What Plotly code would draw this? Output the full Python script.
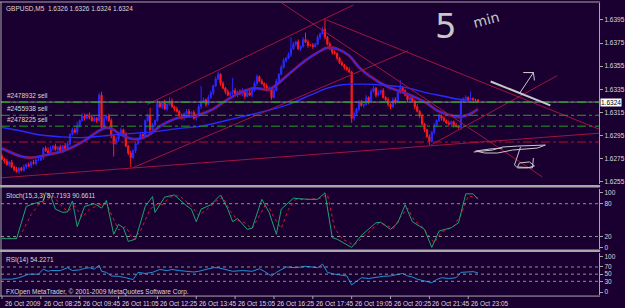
import plotly.graph_objects as go

# ---------------- data (prices in pips above 1.6200) ----------------
close_pips = [75, 73, 70, 72, 68, 66, 64, 67, 65, 68, 70, 69, 72, 71, 74,
              74, 76, 84, 82, 80, 84, 86, 83, 85, 82, 86, 84, 88, 96, 100, 98, 104,
              108, 112, 110, 113, 111, 108, 110, 108, 130, 102, 110, 112, 108, 95, 88,
              92, 96, 100, 96, 86, 80, 76, 82, 88, 92, 96, 94, 108, 112, 100, 104, 108,
              123, 120, 124, 118, 122, 125, 120, 118, 116, 112, 110, 114, 116, 114, 115,
              110, 112, 120, 124, 126, 122, 128, 132, 138, 144, 148, 140, 136, 133, 130,
              132, 134, 130, 133, 131, 134, 129, 132, 130, 134, 140, 146, 142, 140, 138,
              134, 136, 128, 134, 142, 148, 154, 160, 162, 165, 170, 174, 176, 170, 172,
              178, 176, 173, 173, 172, 174, 180, 183, 187, 180, 174, 170, 167, 166, 162,
              158, 156, 154, 152, 150, 110, 114, 118, 124, 121, 122, 128, 124, 133, 136,
              130, 132, 134, 128, 126, 122, 120, 126, 124, 132, 136, 134, 130, 126, 128,
              125, 120, 116, 112, 105, 100, 94, 90, 98, 104, 108, 112, 110, 108, 106,
              105, 107, 104, 103, 102, 125, 127, 128, 126, 127, 126, 126, 124]
open_first = 77
upper_wick = [2,1,2,1,2,1,2,1,1,2, 1,2,1,2,1,2,2,1,2,3, 2,1,2,1,2,1,3,2,1,2,
              2,3,1,2,2,1,2,1,2,1, 2,3,2,1,2,2,1,2,1,2, 1,2,1,2,1,2,1,2,2,1,
              2,7,2,1,3,2,1,2,1,3, 2,1,2,1,2,1,2,2,1,2, 1,2,14,2,1,2,2,1,2,2,
              1,2,1,2,1,11,2,1,2,2, 1,2,2,1,2,2,1,2,1,2, 2,1,2,2,1,2,2,1,2,10,
              2,1,2,1,2,6,2,1,2,1, 2,1,2,9,1,2,1,2,1,1, 2,1,1,2,1,2,1,2,2,1,
              2,1,2,2,1,2,1,2,1,2, 1,2,2,1,7,2,1,2,1,2, 1,2,1,2,1,1,2,1,2,1,
              2,1,2,1,2,1,1,2,1,2, 1,2,1,6,1,1,0]
lower_wick = [1,2,1,2,1,2,1,2,1,1, 2,1,2,1,2,1,1,2,1,2, 1,2,1,2,1,2,1,1,2,1,
              1,2,2,1,2,1,2,1,1,2, 1,2,1,2,1,2,11,1,2,1, 2,1,2,8,1,2,1,1,2,1,
              1,2,1,2,1,1,2,1,2,1, 1,2,1,2,1,2,1,1,2,1, 2,1,2,1,2,1,1,2,1,1,
              2,1,2,1,1,2,1,2,1,2, 2,1,1,2,1,2,1,1,2,1, 1,2,1,1,2,1,1,2,1,2,
              1,2,1,2,1,1,2,1,2,1, 1,2,1,2,1,1,2,1,2,1, 1,2,1,1,4,2,1,2,1,2,
              1,2,1,1,2,1,2,1,1,2, 2,1,2,1,1,2,1,2,1,1, 2,1,2,1,2,1,3,1,2,1,
              1,2,1,1,2,1,2,1,1,2, 1,1,2,1,1,2,0]

fast_ma_i = [0, 8, 12, 20, 24, 29, 35, 39, 43, 46, 48, 54, 60, 65, 72, 81, 87, 92, 98, 104,
             110, 118, 125, 131, 134, 138, 143, 147, 151, 159, 167, 175, 179, 184, 188, 192, 196]
fast_ma_p = [84, 77, 76, 79, 81, 85, 92, 98, 102, 100, 97, 92, 95, 103, 110, 113, 118, 125, 132, 136,
             135, 148, 160, 168, 171, 170, 164, 154, 147, 137, 131, 123, 117, 113, 111, 113, 118]
slow_ma_i = [0, 8, 16, 24, 33, 41, 49, 61, 74, 82, 98, 110, 118, 127, 134, 140, 148, 158, 166, 174, 182, 188, 192]
slow_ma_p = [102, 99, 95.5, 94, 93.3, 94.6, 96.3, 98, 101.5, 103.2, 111, 117, 122, 130, 136, 139, 139.5,
             138.5, 136.7, 132.4, 129, 126.4, 125.5]

stoch_k_i = [0, 6, 10, 13, 17, 18, 20, 22, 25, 27, 29, 31, 34, 38, 41, 43, 46, 48, 50, 52,
             55, 59, 62, 63, 67, 71, 76, 78, 80, 82, 86, 90, 93, 95, 97, 101, 103, 107, 110, 113,
             115, 120, 126, 130, 133, 136, 138, 144, 148, 154, 156, 160, 163, 166, 169, 172, 174, 177,
             180, 185, 188, 191, 194, 196]
stoch_k_v = [16, 16, 75, 80, 85, 100, 95, 70, 64, 65, 85, 38, 75, 80, 72, 86, 24, 42, 36, 11,
             15, 75, 93, 64, 92, 96, 76, 70, 47, 70, 78, 96, 70, 47, 53, 33, 35, 88, 64, 24,
             70, 90, 88, 88, 100, 18, 15, 0, 22, 45, 46, 33, 45, 78, 47, 38, 33, 0,
             30, 36, 45, 98, 98, 88]
stoch_d_i = [0, 7, 12, 15, 19, 21, 24, 27, 30, 33, 36, 40, 43, 45, 48, 51, 54, 57, 61, 64,
             66, 69, 73, 78, 81, 84, 88, 91, 94, 97, 100, 103, 105, 109, 112, 115, 118, 121, 127, 131,
             134, 137, 140, 145, 149, 155, 158, 161, 164, 167, 170, 173, 176, 178, 181, 186, 189, 192, 196]
stoch_d_v = [17, 17, 60, 78, 88, 95, 78, 66, 76, 55, 70, 78, 80, 60, 32, 38, 14, 30, 70, 80,
             78, 92, 95, 76, 58, 68, 84, 92, 66, 50, 45, 34, 50, 82, 55, 35, 70, 88, 88, 90,
             97, 35, 16, 4, 20, 44, 42, 34, 55, 72, 48, 38, 20, 8, 28, 38, 60, 94, 91]

rsi_i = [0, 4, 7, 9, 11, 15, 17, 19, 20, 24, 27, 29, 32, 34, 36, 38, 40, 41, 43, 45,
         48, 51, 54, 56, 59, 62, 65, 68, 70, 73, 76, 79, 81, 84, 87, 89, 92, 95, 99, 103,
         106, 108, 111, 113, 117, 121, 125, 130, 132, 134, 137, 140, 142, 144, 146, 148, 151, 154, 157, 160,
         163, 165, 167, 169, 171, 174, 177, 179, 181, 184, 187, 189, 192, 194, 196]
rsi_v = [36, 36, 40, 45, 50, 50, 64, 58, 60, 60, 68, 60, 62, 66, 68, 64, 75, 58, 55, 45,
         44, 40, 35, 55, 52, 55, 63, 60, 63, 60, 58, 56, 58, 62, 68, 68, 62, 58, 60, 58,
         65, 58, 45, 55, 70, 68, 72, 68, 78, 55, 50, 47, 45, 20, 30, 40, 38, 42, 44, 45,
         48, 52, 45, 42, 36, 32, 26, 35, 40, 38, 40, 55, 56, 57, 54]

order_prices = [1.6324, 1.63126, 1.63032]
order_labels = ["#2478932 sell", "#2455938 sell", "#2478225 sell"]
stop_price = 1.62895
bid_price = 1.6324

# trend lines: (bar index, price) pairs
trend_lines = [
    (-0.8, 1.62585, 245.9, 1.62971),
    (53.7, 1.62671, 167.2, 1.63684),
    (59.8, 1.63220, 144.7, 1.64079),
    (115.2, 1.64096, 222.5, 1.62594),
    (133.6, 1.63950, 245.9, 1.63006),
    (176.6, 1.62868, 228.7, 1.63469),
]

price_ticks = [1.6255, 1.6275, 1.6295, 1.6315, 1.6335, 1.6355, 1.6375, 1.6395]
time_labels = ["26 Oct 2009", "26 Oct 08:25", "26 Oct 09:45", "26 Oct 11:05", "26 Oct 12:25",
               "26 Oct 13:45", "26 Oct 15:05", "26 Oct 16:25", "26 Oct 17:45", "26 Oct 19:05",
               "26 Oct 20:25", "26 Oct 21:45", "26 Oct 23:05"]
time_label_step = 16

# ---------------- build ----------------
W, H = 625, 308
BG = "#1a0030"
TXT = "#d8d8d8"
BORDER = "#a8a8a8"
FONT = "Liberation Sans"


def X(px):
    return px / W


def Y(py):
    return 1 - py / H


n = len(close_pips)
idx = list(range(n))
closes = [1.62 + c / 10000 for c in close_pips]
opens = [1.62 + open_first / 10000] + closes[:-1]
highs = [max(o, c) + u / 10000 for o, c, u in zip(opens, closes, upper_wick)]
lows = [min(o, c) - l / 10000 for o, c, l in zip(opens, closes, lower_wick)]

fig = go.Figure()
fig.add_trace(go.Candlestick(
    x=idx, open=opens, high=highs, low=lows, close=closes,
    increasing=dict(line=dict(color="#2a2aff", width=1), fillcolor="#2a2aff"),
    decreasing=dict(line=dict(color="#ff1a1a", width=1), fillcolor="#ff1a1a"),
    whiskerwidth=0, xaxis="x", yaxis="y", showlegend=False))

fast_p = [1.62 + v / 10000 for v in fast_ma_p]
slow_p = [1.62 + v / 10000 for v in slow_ma_p]
fig.add_trace(go.Scatter(x=fast_ma_i, y=fast_p, mode="lines", line=dict(color="#a01030", width=2.8, shape="spline"),
                         xaxis="x", yaxis="y", showlegend=False))
fig.add_trace(go.Scatter(x=fast_ma_i, y=fast_p, mode="lines", line=dict(color="#2a2aff", width=1.4, shape="spline"),
                         xaxis="x", yaxis="y", showlegend=False))
fig.add_trace(go.Scatter(x=slow_ma_i, y=slow_p, mode="lines", line=dict(color="#2a2aff", width=1.4, shape="spline"),
                         xaxis="x", yaxis="y", showlegend=False))

fig.add_trace(go.Scatter(x=stoch_d_i, y=stoch_d_v, mode="lines", line=dict(color="#d01838", width=1, dash="dot"),
                         xaxis="x", yaxis="y2", showlegend=False))
fig.add_trace(go.Scatter(x=stoch_k_i, y=stoch_k_v, mode="lines", line=dict(color="#20a070", width=1),
                         xaxis="x", yaxis="y2", showlegend=False))
fig.add_trace(go.Scatter(x=rsi_i, y=rsi_v, mode="lines", line=dict(color="#2090d8", width=1),
                         xaxis="x", yaxis="y3", showlegend=False))

shapes = []
# trend lines
for (i1, p1, i2, p2) in trend_lines:
    shapes.append(dict(type="line", xref="x", yref="y", x0=i1, y0=p1, x1=i2, y1=p2,
                       line=dict(color="#a01440", width=1)))
# order lines
for p in order_prices:
    shapes.append(dict(type="line", xref="paper", yref="y", x0=X(1), x1=X(602), y0=p, y1=p,
                       line=dict(color="#1fa01f", width=1, dash="dashdot")))
shapes.append(dict(type="line", xref="paper", yref="y", x0=X(1), x1=X(602), y0=bid_price, y1=bid_price,
                   line=dict(color="#808080", width=1)))
shapes.append(dict(type="line", xref="paper", yref="y", x0=X(1), x1=X(602), y0=bid_price, y1=bid_price,
                   line=dict(color="#1fa01f", width=1, dash="dash")))
shapes.append(dict(type="line", xref="paper", yref="y", x0=X(1), x1=X(602), y0=stop_price, y1=stop_price,
                   line=dict(color="#b01030", width=1, dash="dashdot")))
# indicator levels
for lv in (20, 80):
    shapes.append(dict(type="line", xref="paper", yref="y2", x0=X(1), x1=X(602), y0=lv, y1=lv,
                       line=dict(color="#909090", width=1, dash="dot")))
for lv in (30, 50, 70):
    shapes.append(dict(type="line", xref="paper", yref="y3", x0=X(1), x1=X(602), y0=lv, y1=lv,
                       line=dict(color="#909090", width=1, dash="dot")))
# panel borders
shapes.append(dict(type="line", xref="paper", yref="paper", x0=X(0), x1=X(603), y0=Y(1), y1=Y(1),
                   line=dict(color=BORDER, width=1)))
shapes.append(dict(type="line", xref="paper", yref="paper", x0=X(1), x1=X(1), y0=Y(1), y1=Y(297),
                   line=dict(color=BORDER, width=1)))
for py in (186.5, 251.5):
    shapes.append(dict(type="line", xref="paper", yref="paper", x0=X(0), x1=X(603), y0=Y(py), y1=Y(py),
                       line=dict(color=BORDER, width=2.5)))
shapes.append(dict(type="line", xref="paper", yref="paper", x0=X(0), x1=X(603), y0=Y(297), y1=Y(297),
                   line=dict(color=BORDER, width=1)))
# time ticks
for k in range(len(time_labels)):
    shapes.append(dict(type="line", xref="x", yref="paper", x0=k * time_label_step, x1=k * time_label_step,
                       y0=Y(297), y1=Y(300), line=dict(color=BORDER, width=1)))

# hand-drawn scribbles (decoration)
def path(points):
    s = "M " + " L ".join(f"{X(a)},{Y(b)}" for a, b in points)
    return s

scrib = "#c8c8c8"
shapes.append(dict(type="path", xref="paper", yref="paper", path=path([(493, 81), (553, 105)]),
                   line=dict(color=scrib, width=2)))
shapes.append(dict(type="path", xref="paper", yref="paper",
                   path=path([(522, 93), (536, 72), (526, 72), (536, 72), (537, 80)]),
                   line=dict(color=scrib, width=1)))
shapes.append(dict(type="path", xref="paper", yref="paper",
                   path=path([(476, 152), (495, 150), (505, 147), (520, 146), (548, 145), (540, 148),
                              (515, 150), (500, 153), (487, 153), (478, 151), (492, 149), (505, 148)]),
                   line=dict(color=scrib, width=1)))
shapes.append(dict(type="path", xref="paper", yref="paper",
                   path=path([(523, 147), (517, 165), (520, 168), (530, 168), (537, 166), (532, 162),
                              (522, 163), (520, 167), (535, 168), (536, 158)]),
                   line=dict(color=scrib, width=1)))

annotations = []
annotations.append(dict(xref="paper", yref="paper", x=X(4), y=Y(2), xanchor="left", yanchor="top",
                        text="GBPUSD,M5  1.6326 1.6326 1.6324 1.6324", showarrow=False,
                        font=dict(family=FONT, size=6.5, color=TXT)))
for p, lab in zip(order_prices, order_labels):
    annotations.append(dict(xref="paper", yref="y", x=X(5), y=p, xanchor="left", yanchor="bottom",
                            yshift=1, text=lab, showarrow=False, font=dict(family=FONT, size=6.5, color=TXT)))
annotations.append(dict(xref="paper", yref="paper", x=X(4), y=Y(190), xanchor="left", yanchor="top",
                        text="Stoch(15,3,3) 87.7193 90.6611", showarrow=False,
                        font=dict(family=FONT, size=6.5, color=TXT)))
annotations.append(dict(xref="paper", yref="paper", x=X(4), y=Y(255), xanchor="left", yanchor="top",
                        text="RSI(14) 54.2271", showarrow=False, font=dict(family=FONT, size=6.5, color=TXT)))
annotations.append(dict(xref="paper", yref="paper", x=X(4), y=Y(287), xanchor="left", yanchor="top",
                        text="FXOpen MetaTrader, © 2001-2009 MetaQuotes Software Corp.", showarrow=False,
                        font=dict(family=FONT, size=6.5, color=TXT)))
for k, lab in enumerate(time_labels):
    annotations.append(dict(xref="x", yref="paper", x=k * time_label_step, y=Y(299), xanchor="left",
                            yanchor="top", xshift=1, text=lab, showarrow=False,
                            font=dict(family=FONT, size=6.5, color=TXT)))
annotations.append(dict(xref="paper", yref="y", x=X(603), y=bid_price, xanchor="left", yanchor="middle",
                        text="1.6324", showarrow=False, bgcolor="#ffffff", borderpad=0,
                        font=dict(family=FONT, size=6.5, color="#000000")))
annotations.append(dict(xref="paper", yref="paper", x=X(448), y=Y(25), xanchor="center", yanchor="middle",
                        text="5", showarrow=False, font=dict(family="DejaVu Sans", size=34, color=scrib)))
annotations.append(dict(xref="paper", yref="paper", x=X(488), y=Y(19), xanchor="center", yanchor="middle",
                        text="min", showarrow=False, textangle=-15,
                        font=dict(family="DejaVu Sans", size=14, color=scrib)))

axis_font = dict(family=FONT, size=6.5, color=TXT)
fig.update_layout(
    width=W, height=H, margin=dict(l=0, r=0, t=0, b=0),
    paper_bgcolor=BG, plot_bgcolor=BG,
    shapes=shapes, annotations=annotations, showlegend=False,
    xaxis=dict(domain=[X(1), X(602)], range=[-0.41, 245.9], visible=False,
               rangeslider=dict(visible=False), anchor="y3"),
    yaxis=dict(domain=[Y(184), Y(2)], range=[1.62534, 1.64096], side="right", anchor="x",
               tickvals=price_ticks, ticktext=[f"{v:.4f}" for v in price_ticks],
               showgrid=False, zeroline=False, ticks="outside", ticklen=3, tickcolor=BORDER,
               showline=True, linecolor=BORDER, tickfont=axis_font),
    yaxis2=dict(domain=[Y(250), Y(189)], range=[-3.6, 107.3], side="right", anchor="x",
                tickvals=[0, 20, 80, 100], showgrid=False, zeroline=False, ticks="outside", ticklen=3,
                tickcolor=BORDER, showline=True, linecolor=BORDER, tickfont=axis_font),
    yaxis3=dict(domain=[Y(296), Y(254)], range=[-8.3, 108], side="right", anchor="x",
                tickvals=[0, 30, 50, 70, 100], showgrid=False, zeroline=False, ticks="outside", ticklen=3,
                tickcolor=BORDER, showline=True, linecolor=BORDER, tickfont=axis_font),
)

fig.write_html("out.html")
